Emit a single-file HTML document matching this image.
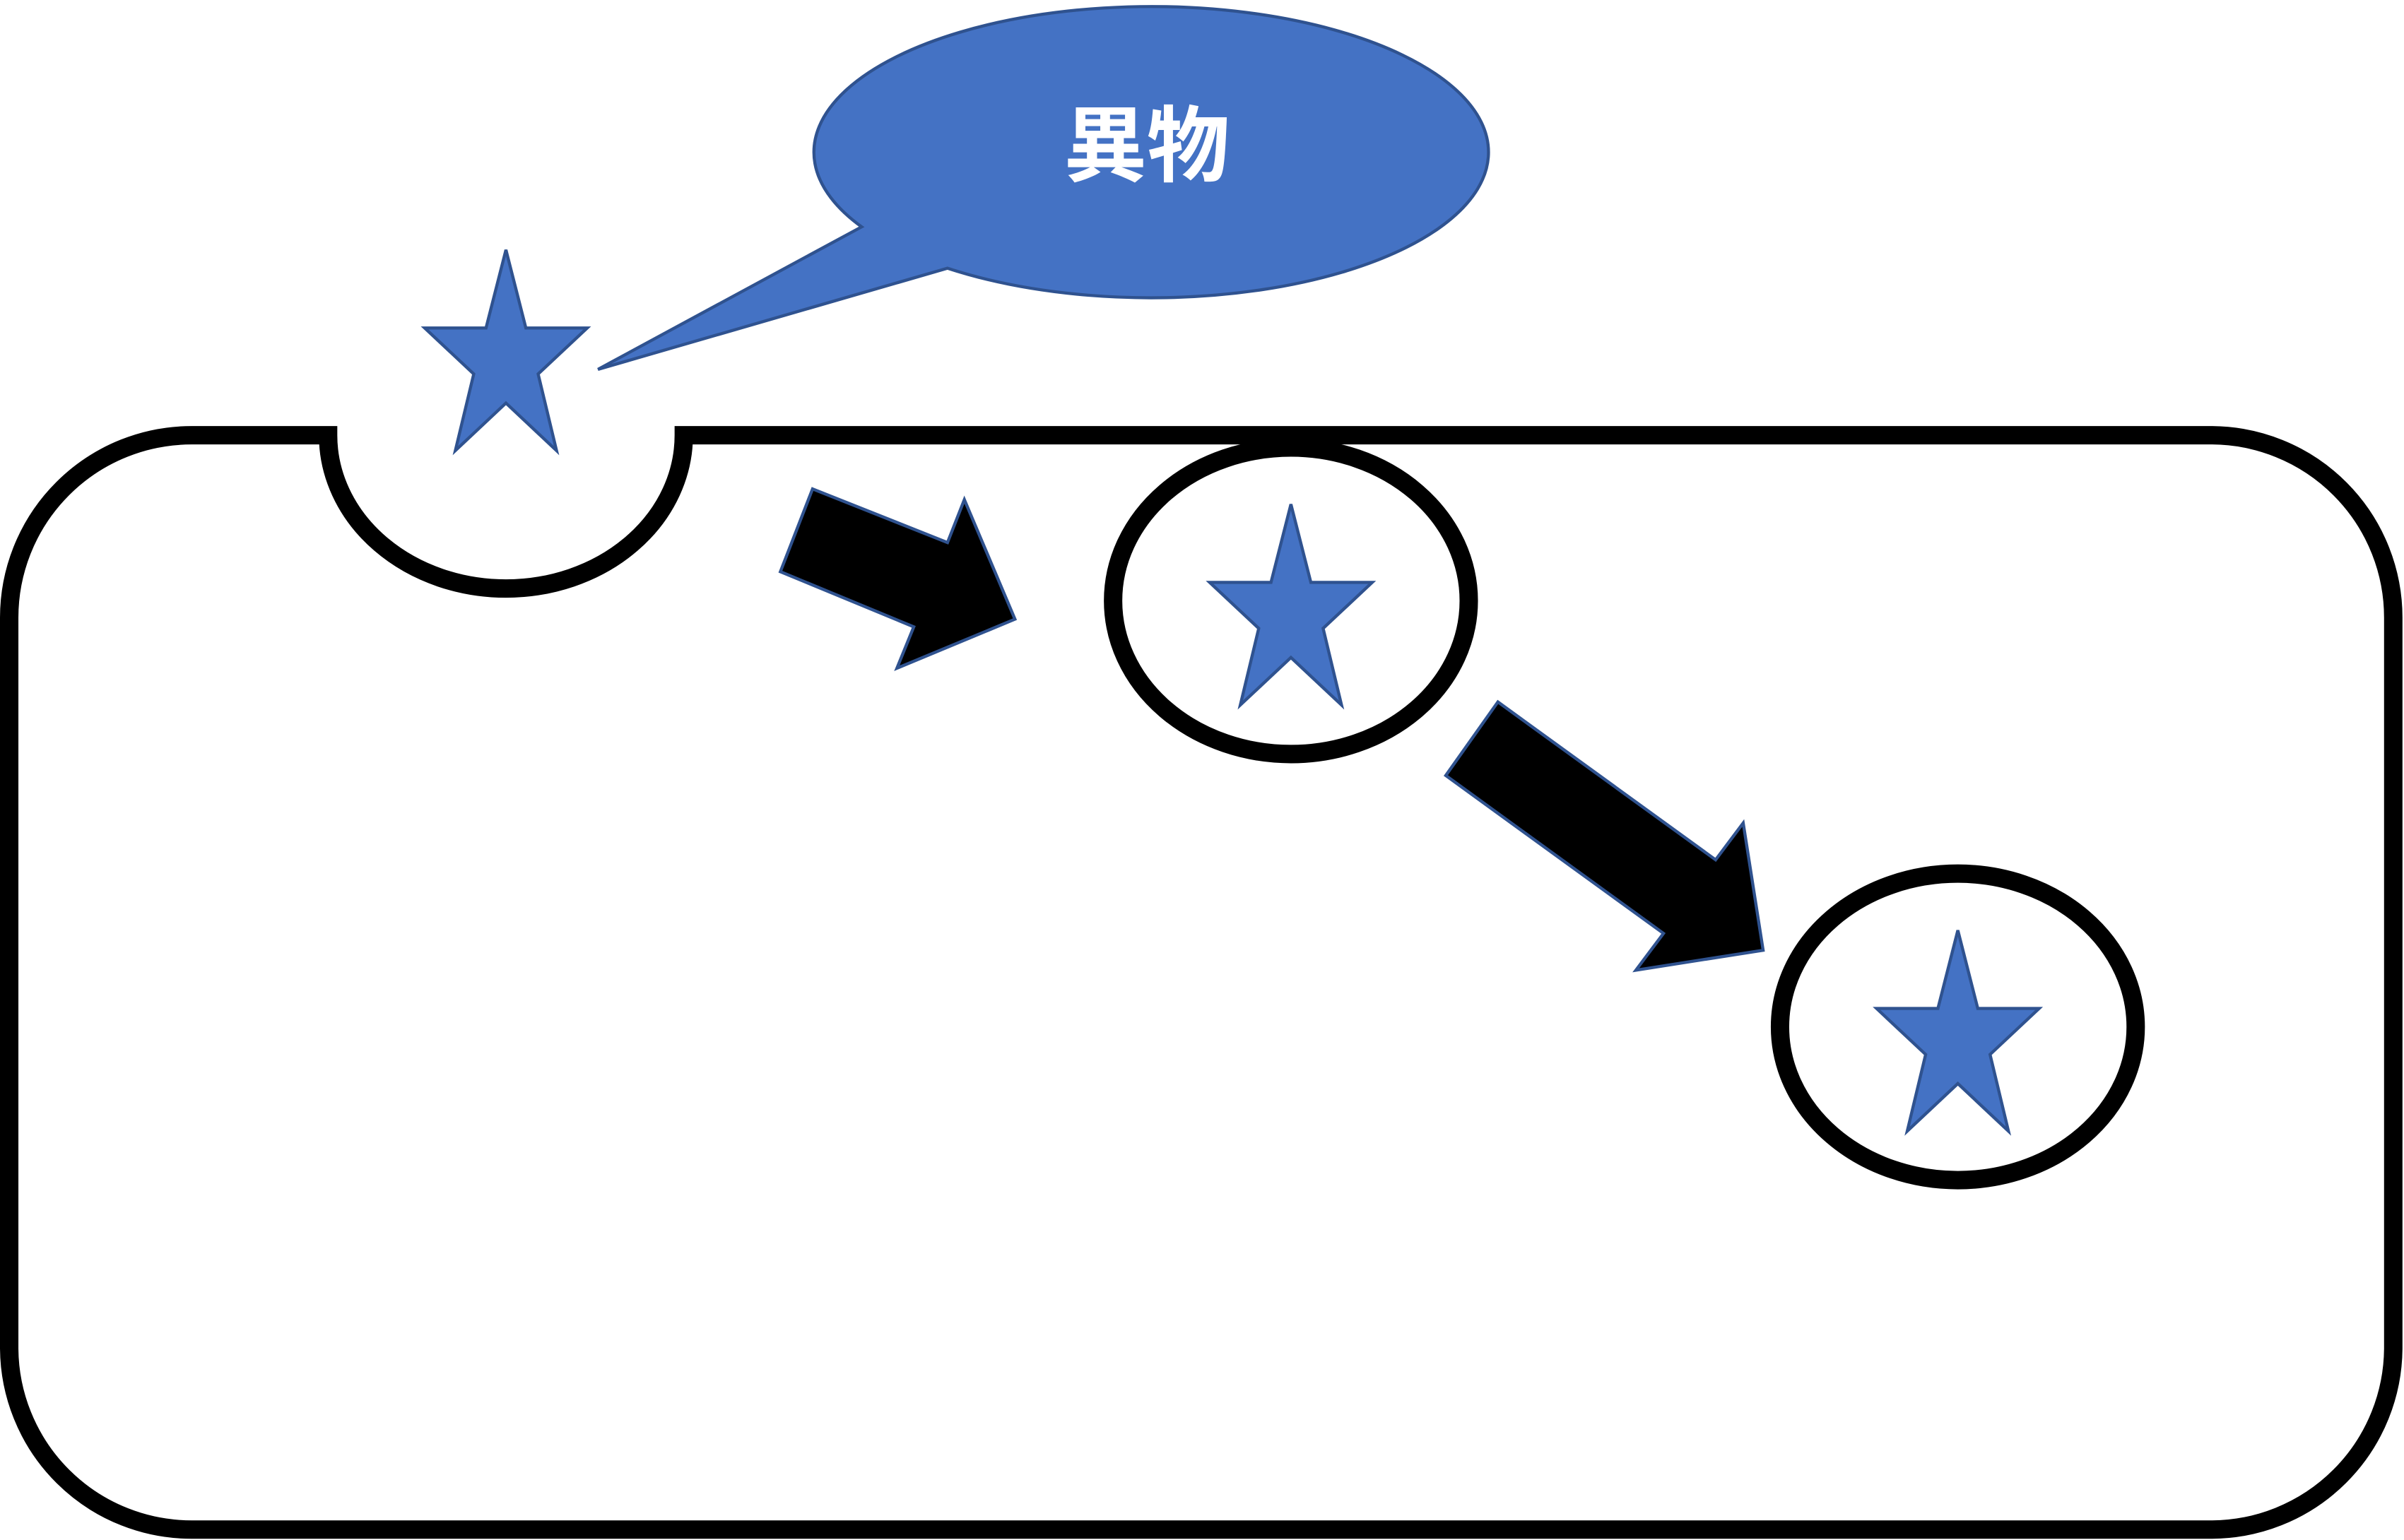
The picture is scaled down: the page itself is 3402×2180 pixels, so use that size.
<!DOCTYPE html>
<html><head><meta charset="utf-8"><style>
html,body{margin:0;padding:0;background:#fff;}
svg{display:block;}
</style></head><body>
<svg width="3402" height="2180" viewBox="0 0 1568 1004.8" preserveAspectRatio="none" xmlns="http://www.w3.org/2000/svg">
<defs>
<polygon id="star" points="0,0 13,51 53,51 21,81 33,131 0,100 -33,131 -21,81 -53,51 -13,51" fill="#4472C4" stroke="#2F528F" stroke-width="2"/>
</defs>
<path d="M130 284 H125 A119 119 0 0 0 6 403 V880 A119 119 0 0 0 125 998 H1443 A119 119 0 0 0 1561 880 V403 A119 119 0 0 0 1443 284 H446 A116 100 0 0 1 214 284 H130" fill="#fff" stroke="#000" stroke-width="12"/>
<ellipse cx="842" cy="392" rx="116" ry="100" fill="#fff" stroke="#000" stroke-width="12"/>
<ellipse cx="1277" cy="670" rx="116" ry="100" fill="#fff" stroke="#000" stroke-width="12"/>
<use href="#star" x="330" y="163"/>
<use href="#star" x="842" y="329"/>
<use href="#star" x="1277" y="607"/>
<polygon points="530,319 618,354 629,326 662,404 585,436 596,409 509,373" fill="#000" stroke="#2F528F" stroke-width="2"/>
<polygon points="977,458 1119,561 1137,537 1150,620 1067,633 1085,609 943,506" fill="#000" stroke="#2F528F" stroke-width="2"/>
<path d="M562 148 A220 95 0 1 1 618 175 L390 241 Z" fill="#4472C4" stroke="#2F528F" stroke-width="2"/>
<text x="748" y="114" text-anchor="middle" font-family="'Liberation Sans','Noto Sans CJK JP',sans-serif" font-weight="bold" font-size="54" fill="#fff">異物</text>
</svg>
</body></html>
